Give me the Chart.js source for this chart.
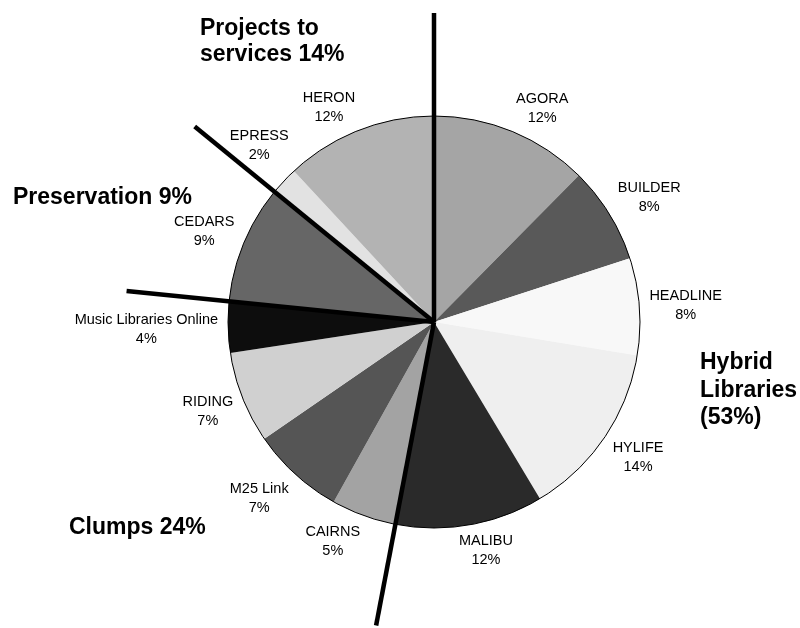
<!DOCTYPE html>
<html>
<head>
<meta charset="utf-8">
<title>Projects by programme area</title>
<script src="https://cdn.jsdelivr.net/npm/chart.js@4.4.0/dist/chart.umd.min.js"></script>
<style>
    html, body { margin: 0; padding: 0; background: #fff; }
    #wrap { width: 800px; height: 628px; position: relative; }
</style>
</head>
<body>
<div id="wrap"><canvas id="pieChart"></canvas></div>
<script>
// Projects, clockwise from 12 o'clock
const projects = ['AGORA', 'BUILDER', 'HEADLINE', 'HYLIFE', 'MALIBU', 'CAIRNS', 'M25 Link',
    'RIDING', 'Music Libraries Online', 'CEDARS', 'EPRESS', 'HERON'];
const shares = [12.4, 7.6, 7.6, 13.8, 11.6, 5.1, 7.3, 7.2, 4.0, 9.3, 2.2, 11.9];
const greys = ['#a5a5a5', '#595959', '#f8f8f8', '#efefef', '#2a2a2a', '#a3a3a3', '#555555',
    '#d0d0d0', '#0d0d0d', '#666666', '#e2e2e2', '#b3b3b3'];

// Programme areas: first project index of each group
const groupNames = ['Hybrid Libraries', 'Clumps', 'Preservation', 'Projects to services'];
const groupStarts = [0, 5, 9, 10];

const total = shares.reduce((a, b) => a + b, 0);

function groupPercent(g) {
    const end = g + 1 < groupStarts.length ? groupStarts[g + 1] : shares.length;
    let sum = 0;
    for (let i = groupStarts[g]; i < end; i++) sum += shares[i];
    return Math.round(sum / total * 100);
}

// Lines of text for each group caption
function groupLines(g) {
    const p = groupPercent(g);
    switch (g) {
        case 0: return ['Hybrid', 'Libraries', '(' + p + '%)'];
        case 3: return ['Projects to', 'services ' + p + '%'];
        default: return [groupNames[g] + ' ' + p + '%'];
    }
}

const clamp = v => Math.max(-1, Math.min(1, v));

const overlayPlugin = {
    id: 'overlay',
    afterDatasetsDraw(chart) {
        const ctx = chart.ctx;
        const arcs = chart.getDatasetMeta(0).data;
        const cx = arcs[0].x, cy = arcs[0].y, r = arcs[0].outerRadius;
        const dividerAngles = groupStarts.map(idx => arcs[idx].startAngle);

        ctx.save();
        // thin outline round the pie
        ctx.beginPath();
        ctx.arc(cx, cy, r, 0, Math.PI * 2);
        ctx.lineWidth = 1;
        ctx.strokeStyle = '#000';
        ctx.stroke();

        // slice labels outside the pie
        ctx.font = '14.5px "Liberation Sans", Arial, sans-serif';
        ctx.fillStyle = '#000';
        ctx.textAlign = 'center';
        ctx.textBaseline = 'alphabetic';
        arcs.forEach((arc, i) => {
            const mid = (arc.startAngle + arc.endAngle) / 2;
            const ux = Math.cos(mid), uy = Math.sin(mid);
            const pct = Math.round(shares[i] / total * 100) + '%';
            const wName = ctx.measureText(projects[i]).width;
            const wPct = ctx.measureText(pct).width;
            const halfW = Math.max(wName, wPct) / 2;
            const halfH = 15;
            const ax = cx + (r + 10) * ux, ay = cy + (r + 10) * uy;
            let lx = ax + halfW * clamp(3 * ux);
            let ly = ay + halfH * clamp(1.5 * uy);

            // keep label clear of the heavy divider lines
            dividerAngles.forEach(a => {
                if (Math.cos(mid - a) <= 0) return;
                const side = Math.sin(mid - a) >= 0 ? 1 : -1;
                const nx = -Math.sin(a) * side, ny = Math.cos(a) * side;
                const corners = [];
                [[wName, ly - 14.75, ly - 4.25], [wPct, ly + 4.25, ly + 14.75]].forEach(([w, t, b]) => {
                    [lx - w / 2, lx + w / 2].forEach(x => {
                        corners.push([x, t], [x, b]);
                    });
                });
                let minD = Infinity;
                corners.forEach(([x, y]) => {
                    minD = Math.min(minD, nx * (x - cx) + ny * (y - cy));
                });
                const margin = 9;
                if (minD < margin) {
                    lx += (margin - minD) * nx;
                    ly += (margin - minD) * ny;
                }
            });

            ctx.fillText(projects[i], lx, ly - 4.25);
            ctx.fillText(pct, lx, ly + 14.75);
        });

        // heavy dividers between programme areas
        ctx.strokeStyle = '#000';
        ctx.lineWidth = 4.5;
        dividerAngles.forEach(a => {
            ctx.beginPath();
            ctx.moveTo(cx, cy);
            ctx.lineTo(cx + 1.5 * r * Math.cos(a), cy + 1.5 * r * Math.sin(a));
            ctx.stroke();
        });

        // group captions
        const captionPos = [
            { x: 700, y: 369, step: 27.5 },
            { x: 69, y: 534, step: 27 },
            { x: 13, y: 204, step: 27 },
            { x: 200, y: 34.5, step: 26.5 }
        ];
        ctx.font = 'bold 23px "Liberation Sans", Arial, sans-serif';
        ctx.textAlign = 'left';
        groupNames.forEach((name, g) => {
            const pos = captionPos[g];
            groupLines(g).forEach((line, k) => {
                ctx.fillText(line, pos.x, pos.y + k * pos.step);
            });
        });
        ctx.restore();
    }
};

const ctx = document.getElementById('pieChart').getContext('2d');
new Chart(ctx, {
    type: 'pie',
    data: {
        labels: projects,
        datasets: [{
            data: shares,
            backgroundColor: greys,
            borderWidth: 0,
            hoverBorderWidth: 0,
            hoverOffset: 0
        }]
    },
    options: {
        responsive: true,
        maintainAspectRatio: false,
        animation: false,
        events: [],
        layout: {
            padding: { left: 228, right: 160, top: 116, bottom: 100 }
        },
        plugins: {
            legend: { display: false },
            tooltip: { enabled: false }
        }
    },
    plugins: [overlayPlugin]
});
</script>
</body>
</html>
